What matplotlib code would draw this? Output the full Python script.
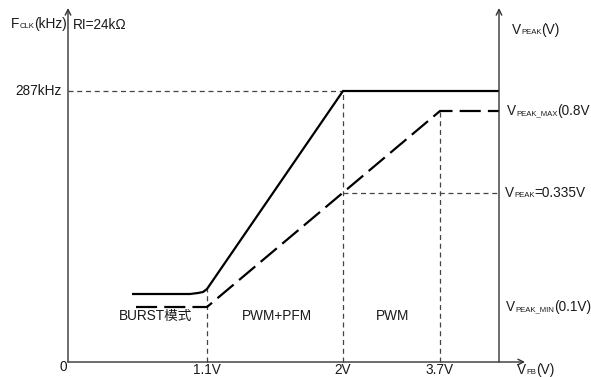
import matplotlib
matplotlib.use("Agg")
import matplotlib.pyplot as plt
from matplotlib.offsetbox import TextArea, HPacker, AnnotationBbox

# ---- schematic data (units: offset from the origin of the diagram) ----
vfb_labels = ['1.1V', '2V', '3.7V']
vfb_pos = [139, 275, 372]
right_axis_x = 431
axis_top = 354
x_axis_end = 457

fclk_label = '287kHz'
fclk_level = 271
fclk_x = [64, 122, 130, 135, 139, 275, 431]
fclk_y = [68, 68, 69, 70, 73, 271, 271]

vpeak_x = [68, 139, 372, 431]
vpeak_y = [55, 55, 251, 251]
vpeak_mid_level = 169
vpeak_max_level = 251
vpeak_min_level = 55

mode_labels = ['BURST模式', 'PWM+PFM', 'PWM']
mode_x = [88, 209, 325]
mode_y = 46

FONT = ['Liberation Sans', 'Noto Sans CJK SC', 'DejaVu Sans']
plt.rcParams['font.family'] = FONT
FS = 9.8
FS_SMALL = 5.6
TC = '#1a1a1a'

fig = plt.figure(figsize=(5.91, 3.77), dpi=100)
ax = fig.add_axes([0, 0, 1, 1])
ax.set_xlim(-68, 523)
ax.set_ylim(-15, 362)
ax.axis('off')

axis_col = '#333333'
arrow = dict(arrowstyle='->', lw=1.0, color=axis_col, shrinkA=0, shrinkB=0,
             mutation_scale=10)
ax.annotate('', xy=(0, axis_top), xytext=(0, 0), arrowprops=arrow)
ax.annotate('', xy=(right_axis_x, axis_top), xytext=(right_axis_x, 0), arrowprops=arrow)
ax.annotate('', xy=(x_axis_end, 0), xytext=(0, 0), arrowprops=arrow)

# reference dashed lines
gd = dict(color='#444444', lw=0.9, linestyle=(0, (4, 3)))
ax.plot([0, vfb_pos[1]], [fclk_level, fclk_level], **gd)
ax.plot([vfb_pos[0], vfb_pos[0]], [0, fclk_y[4]], **gd)
ax.plot([vfb_pos[1], vfb_pos[1]], [0, fclk_level], **gd)
ax.plot([vfb_pos[2], vfb_pos[2]], [0, vpeak_max_level], **gd)
ax.plot([vfb_pos[1], right_axis_x], [vpeak_mid_level, vpeak_mid_level], **gd)

# curves
ax.plot(fclk_x, fclk_y, color='black', lw=1.6, solid_capstyle='butt')
ax.plot(vpeak_x, vpeak_y, color='black', lw=1.6, linestyle=(0, (9.5, 3.2)),
        dash_capstyle='butt')


def subtext(x, y, parts, ha=0.0):
    boxes = []
    for txt, small in parts:
        boxes.append(TextArea(txt, textprops=dict(fontsize=FS_SMALL if small else FS,
                                                  color=TC, family=FONT)))
    pack = HPacker(children=boxes, align='baseline', pad=0, sep=0)
    ab = AnnotationBbox(pack, (x, y), xycoords='data', frameon=False,
                        box_alignment=(ha, 0.5), pad=0)
    ax.add_artist(ab)


subtext(-57, 338, [('F', False), ('CLK', True), ('(kHz)', False)])
ax.text(5, 337, 'RI=24kΩ', fontsize=FS, color=TC, ha='left', va='center')
ax.text(-6, fclk_level, fclk_label, fontsize=FS, color=TC, ha='right', va='center')
ax.text(-5, -5, '0', fontsize=FS, color=TC, ha='center', va='center')
for lab, xp in zip(vfb_labels, vfb_pos):
    ax.text(xp, -8, lab, fontsize=FS, color=TC, ha='center', va='center')
subtext(449, -8, [('V', False), ('FB', True), ('(V)', False)])

subtext(444, 332, [('V', False), ('PEAK', True), ('(V)', False)])
subtext(439, vpeak_max_level, [('V', False), ('PEAK_MAX', True), ('(0.8V', False)])
subtext(437, vpeak_mid_level, [('V', False), ('PEAK', True), ('=0.335V', False)])
subtext(438, vpeak_min_level, [('V', False), ('PEAK_MIN', True), ('(0.1V)', False)])

for lab, xp in zip(mode_labels, mode_x):
    ax.text(xp, mode_y, lab, fontsize=FS, color=TC, ha='center', va='center')

fig.savefig('out.png', dpi=100)
